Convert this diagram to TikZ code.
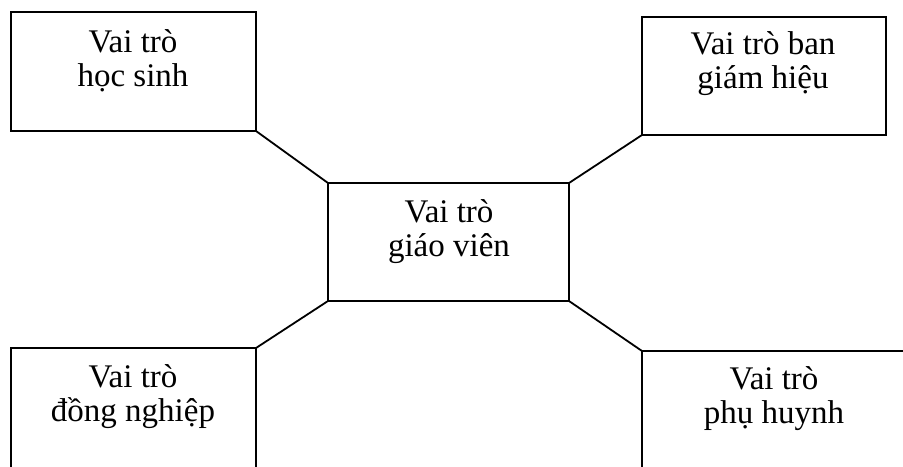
\documentclass[tikz,border=0pt]{standalone}
\usepackage{fontspec}
\setmainfont{Liberation Serif}
\begin{document}
\begin{tikzpicture}[x=0.5pt,y=-0.5pt,
  boxnode/.style={draw=black,line width=1.3pt,rectangle,inner sep=0pt,outer sep=0pt,anchor=north west},
  lbl/.style={font=\fontsize{16.5pt}{17pt}\selectfont,align=center,anchor=base,inner sep=0pt},
  link/.style={draw=black,line width=0.9pt}]
\useasboundingbox (0,0) rectangle (903,466);
\clip (0,0) rectangle (903,466);
\fill[white] (0,0) rectangle (903,466);
\node[boxnode,minimum width=122.5pt,minimum height=59.5pt] (hs) at (11,12) {};
\node[boxnode,minimum width=122pt,minimum height=59pt] (bgh) at (642,17) {};
\node[boxnode,minimum width=120.5pt,minimum height=59pt] (gv) at (328,183) {};
\node[boxnode,minimum width=122.5pt,minimum height=80pt] (dn) at (11,348) {};
\node[boxnode,minimum width=150pt,minimum height=80pt] (ph) at (642,351) {};
\node[lbl] (ths) at (133,86) {Vai trò\\học sinh};
\node[lbl] (tbgh) at (763,88) {Vai trò ban\\giám hiệu};
\node[lbl] (tgv) at (449,256) {Vai trò\\giáo viên};
\node[lbl] (tdn) at (133,421) {Vai trò\\đồng nghiệp};
\node[lbl] (tph) at (774,423) {Vai trò\\phụ huynh};
\draw[link] (hs.south east) -- (gv.north west);
\draw[link] (bgh.south west) -- (gv.north east);
\draw[link] (dn.north east) -- (gv.south west);
\draw[link] (ph.north west) -- (gv.south east);
\end{tikzpicture}
\end{document}
